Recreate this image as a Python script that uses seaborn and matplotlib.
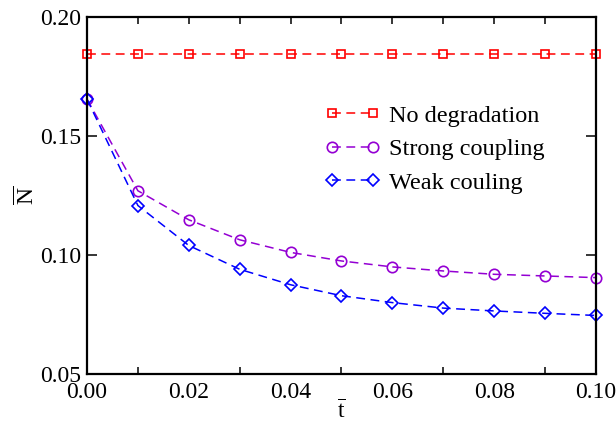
import numpy as np
import pandas as pd
import matplotlib
matplotlib.use("Agg")
import matplotlib.pyplot as plt
import seaborn as sns
from matplotlib.ticker import MultipleLocator

# Time points and mean values for each scenario
t_values = [0.00, 0.01, 0.02, 0.03, 0.04, 0.05, 0.06, 0.07, 0.08, 0.09, 0.10]
no_degradation = [0.1845] * 11
strong_coupling = [0.1655, 0.1270, 0.1148, 0.1064, 0.1011, 0.0975, 0.0950,
                   0.0933, 0.0919, 0.0912, 0.0905]
weak_coupling = [0.1655, 0.1208, 0.1040, 0.0940, 0.0875, 0.0829, 0.0800,
                 0.0777, 0.0765, 0.0755, 0.0746]

series_names = ["No degradation", "Strong coupling", "Weak couling"]
series_values = [no_degradation, strong_coupling, weak_coupling]
series_colors = ["#ff0000", "#9400d3", "#0000ff"]
series_markers = ["s", "o", "D"]
series_sizes = [6.2, 7.5, 6.2]

x_ticks = [0.00, 0.02, 0.04, 0.06, 0.08, 0.10]
y_ticks = [0.05, 0.10, 0.15, 0.20]

sns.set_theme(style="ticks")
plt.rcParams["font.family"] = ["Liberation Serif", "DejaVu Serif"]
plt.rcParams["mathtext.fontset"] = "custom"
plt.rcParams["mathtext.rm"] = "Liberation Serif"
plt.rcParams["mathtext.it"] = "Liberation Serif"
plt.rcParams["text.color"] = "black"
plt.rcParams["axes.labelcolor"] = "black"

frames = []
for name, vals in zip(series_names, series_values):
    frames.append(pd.DataFrame({"t": t_values, "N": vals, "series": name}))
df = pd.concat(frames, ignore_index=True)

fig = plt.figure(figsize=(6.16, 4.23), dpi=100)
ax = fig.add_axes([0.1412, 0.1158, 0.8263, 0.8440])

for name, color, marker, ms in zip(series_names, series_colors,
                                   series_markers, series_sizes):
    sub = df[df["series"] == name]
    sns.lineplot(data=sub, x="t", y="N", ax=ax, color=color,
                 linestyle=(0, (5.8, 3.6)), linewidth=1.1,
                 marker=marker, markersize=ms,
                 markerfacecolor="none", markeredgecolor=color,
                 markeredgewidth=1.2, label=name, clip_on=False)

ax.set_xlim(0.0, 0.10)
ax.set_ylim(0.05, 0.20)
ax.set_xticks(x_ticks)
ax.set_yticks(y_ticks)
ax.xaxis.set_minor_locator(MultipleLocator(0.01))
ax.set_xticklabels([f"{v:.2f}" for v in x_ticks], fontsize=17)
ax.set_yticklabels([f"{v:.2f}" for v in y_ticks], fontsize=17)

for side in ["left", "right", "top", "bottom"]:
    ax.spines[side].set_visible(True)
    ax.spines[side].set_linewidth(1.6)
    ax.spines[side].set_color("black")

ax.tick_params(axis="y", which="major", direction="in", length=7, width=1.1,
               left=True, right=True, pad=4, colors="black", labelcolor="black")
ax.tick_params(axis="x", which="major", direction="in", length=5, width=1.1,
               top=True, bottom=True, pad=6, colors="black", labelcolor="black")
ax.tick_params(axis="x", which="minor", direction="in", length=5, width=1.1,
               top=True, bottom=True, colors="black")
# Bottom major ticks are not drawn
for tick in ax.xaxis.get_major_ticks():
    tick.tick1line.set_visible(False)

ax.set_xlabel(r"$\overline{\mathrm{t}}$", fontsize=17, labelpad=-2)
ax.set_ylabel(r"$\overline{\mathrm{N}}$", fontsize=17, labelpad=1)

leg = ax.legend(loc="upper left", bbox_to_anchor=(0.448, 0.782), frameon=False,
                fontsize=17.5, numpoints=2, handlelength=2.3, handletextpad=0.35,
                labelspacing=0.48, borderaxespad=0)
for txt in leg.get_texts():
    txt.set_color("black")

fig.savefig("out.png", dpi=100)
